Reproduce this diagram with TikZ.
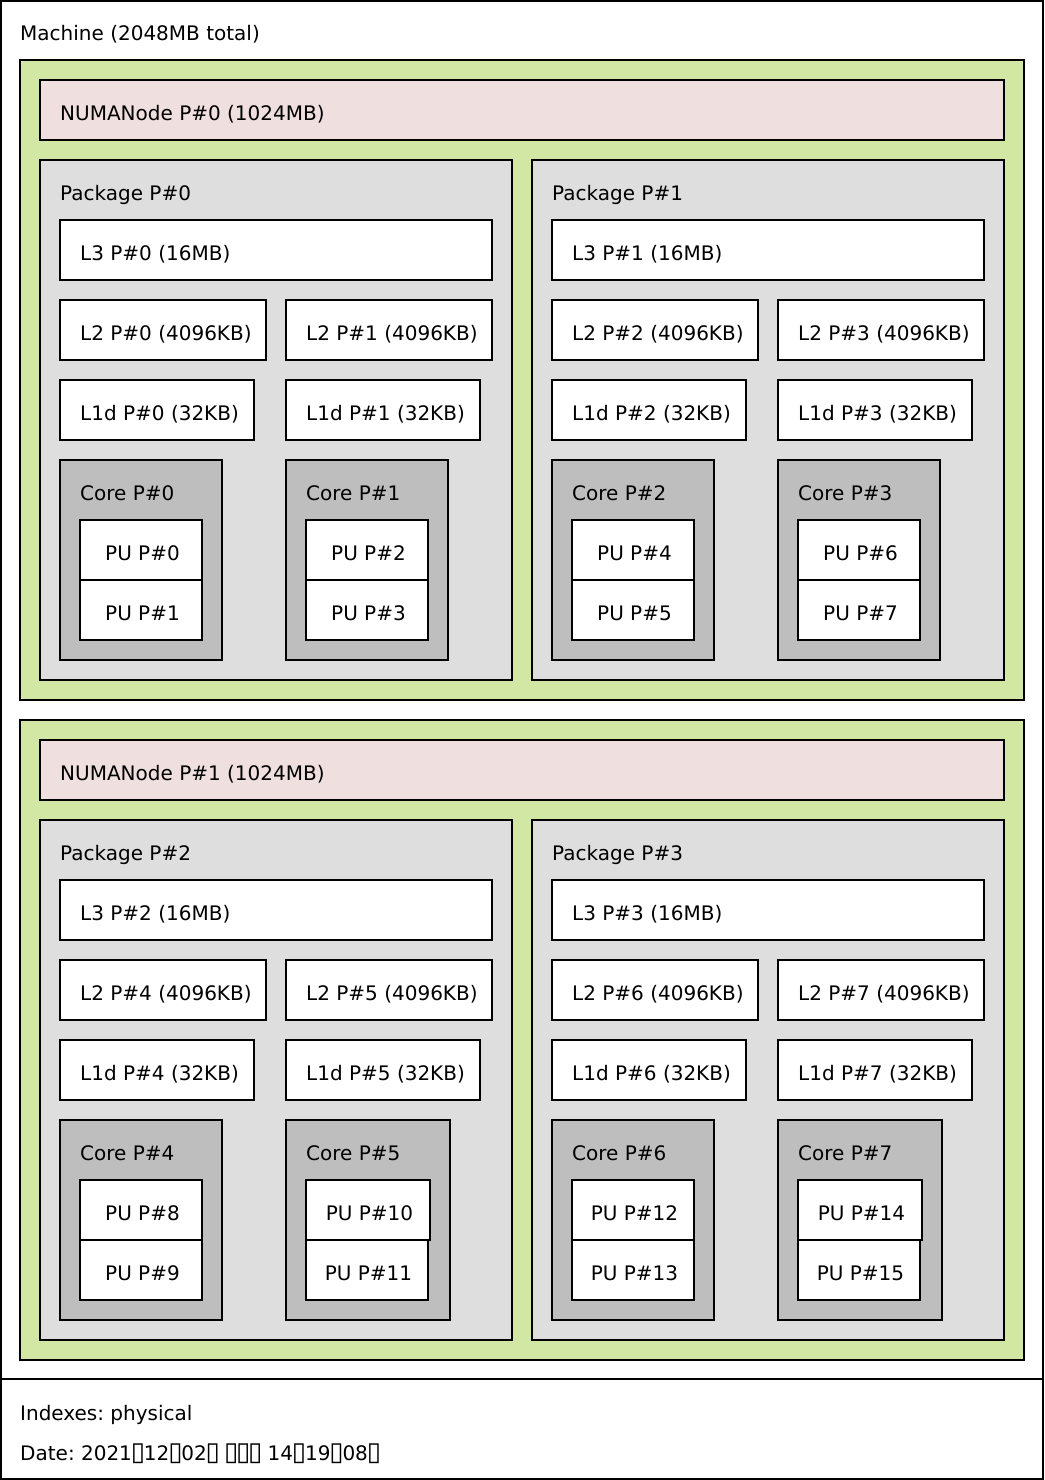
\documentclass[tikz,border=0pt]{standalone}
\usepackage{fontspec}
\setmainfont{DejaVu Sans}
\definecolor{numagrp}{HTML}{D2E7A4}
\definecolor{numanode}{HTML}{EFDFDE}
\definecolor{pkgc}{HTML}{DEDEDE}
\definecolor{corec}{HTML}{BEBEBE}
\newcommand\tofu{\makebox[0.6em][c]{\scalebox{1.3}[1.3]{▯}}}
\tikzset{
  frame/.style={draw=black, line width=2pt},
  groupbox/.style={frame, fill=numagrp},
  numabox/.style={frame, fill=numanode},
  pkgbox/.style={frame, fill=pkgc},
  cachebox/.style={frame, fill=white},
  corebox/.style={frame, fill=corec},
  pubox/.style={frame, fill=white},
  lbl/.style={inner sep=0pt, anchor=base west, font=\fontsize{20}{24}\selectfont},
  pulbl/.style={inner sep=0pt, anchor=base, font=\fontsize{20}{24}\selectfont},
}
% name, style, x1, y1, x2, y2, text
\newcommand\bx[7]{\draw[#2] (#3,#4) rectangle (#5,#6); \node[lbl] (#1) at (#3+20,#4+40) {#7};}
% name, x1, y1, x2, y2, text
\newcommand\pu[6]{\draw[pubox] (#2,#3) rectangle (#4,#5); \node[pulbl] (#1) at ({(#2+#4)/2+1.5},#3+40) {#6};}
\begin{document}
\frenchspacing
\begin{tikzpicture}[x=1pt,y=-1pt]
\useasboundingbox (0,0) rectangle (1044,1480);
\fill[white] (0,0) rectangle (1044,1480);
% machine and legend
\draw[frame] (1,1) rectangle (1043,1379);
\node[lbl] (machine) at (20,41) {Machine (2048MB total)};
\draw[frame] (1,1379) rectangle (1043,1479);
\node[lbl] (idx) at (20,1420) {Indexes: physical};
\node[lbl] (date) at (20,1460) {Date: 2021\tofu12\tofu02\tofu{} \tofu\tofu\tofu{} 14\tofu19\tofu08\tofu};
% NUMA groups
\foreach \n/\dy in {0/0,1/660}{
  \draw[groupbox] (20,60+\dy) rectangle (1024,700+\dy);
  \bx{numa\n}{numabox}{40}{80+\dy}{1004}{140+\dy}{NUMANode P\#\n\ (1024MB)}
}
% packages
\foreach \P/\dx/\dy/\cbr/\pua/\pub in {0/0/0/448/428/428, 1/492/0/448/428/428, 2/0/660/450/430/428, 3/492/660/450/430/428}{
  \pgfmathtruncatemacro\ca{2*\P}
  \pgfmathtruncatemacro\cb{2*\P+1}
  \pgfmathtruncatemacro\ua{4*\P}
  \pgfmathtruncatemacro\ub{4*\P+1}
  \pgfmathtruncatemacro\uc{4*\P+2}
  \pgfmathtruncatemacro\ud{4*\P+3}
  \bx{pkg\P}{pkgbox}{40+\dx}{160+\dy}{512+\dx}{680+\dy}{Package P\#\P}
  \bx{l3-\P}{cachebox}{60+\dx}{220+\dy}{492+\dx}{280+\dy}{L3 P\#\P\ (16MB)}
  \bx{l2-\ca}{cachebox}{60+\dx}{300+\dy}{266+\dx}{360+\dy}{L2 P\#\ca\ (4096KB)}
  \bx{l2-\cb}{cachebox}{286+\dx}{300+\dy}{492+\dx}{360+\dy}{L2 P\#\cb\ (4096KB)}
  \bx{l1-\ca}{cachebox}{60+\dx}{380+\dy}{254+\dx}{440+\dy}{L1d P\#\ca\ (32KB)}
  \bx{l1-\cb}{cachebox}{286+\dx}{380+\dy}{480+\dx}{440+\dy}{L1d P\#\cb\ (32KB)}
  \bx{core\ca}{corebox}{60+\dx}{460+\dy}{222+\dx}{660+\dy}{Core P\#\ca}
  \bx{core\cb}{corebox}{286+\dx}{460+\dy}{\cbr+\dx}{660+\dy}{Core P\#\cb}
  \pu{pu\ua}{80+\dx}{520+\dy}{202+\dx}{580+\dy}{PU P\#\ua}
  \pu{pu\ub}{80+\dx}{580+\dy}{202+\dx}{640+\dy}{PU P\#\ub}
  \pu{pu\uc}{306+\dx}{520+\dy}{\pua+\dx}{580+\dy}{PU P\#\uc}
  \pu{pu\ud}{306+\dx}{580+\dy}{\pub+\dx}{640+\dy}{PU P\#\ud}
}
\end{tikzpicture}
\end{document}
